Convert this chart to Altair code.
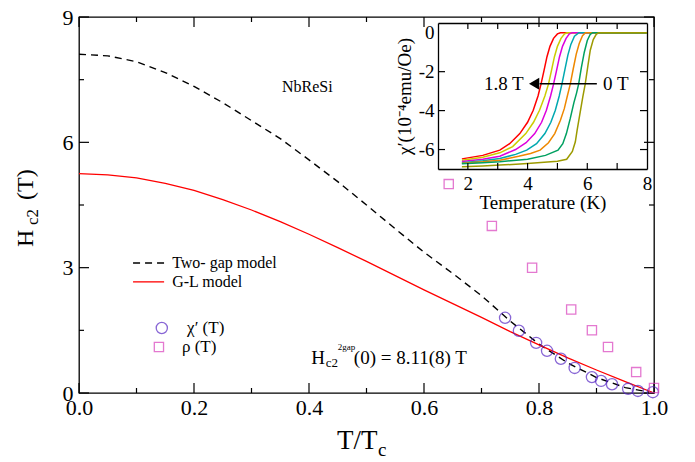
import altair as alt
import pandas as pd

FONT = "Liberation Serif"
W, H = 575, 376

# ---------------- main panel data ----------------
t_grid = [0.0, 0.05, 0.1, 0.15, 0.2, 0.25, 0.3, 0.35, 0.4, 0.45, 0.5,
          0.55, 0.6, 0.65, 0.7, 0.75, 0.8, 0.85, 0.9, 0.95, 1.0]
two_gap_H = [8.11, 8.07, 7.93, 7.67, 7.34, 6.95, 6.52, 6.09, 5.58, 5.06, 4.50,
             3.93, 3.37, 2.86, 2.33, 1.72, 1.17, 0.72, 0.37, 0.13, 0.0]
gl_H = [5.25, 5.22, 5.15, 5.02, 4.85, 4.63, 4.38, 4.10, 3.80, 3.48, 3.15,
        2.81, 2.47, 2.14, 1.81, 1.47, 1.15, 0.84, 0.55, 0.27, 0.0]

chi_t = [0.741, 0.765, 0.795, 0.814, 0.838, 0.862, 0.892, 0.908, 0.927, 0.955, 0.972, 0.998]
chi_H = [1.80, 1.49, 1.20, 1.01, 0.82, 0.60, 0.38, 0.29, 0.21, 0.10, 0.05, 0.02]

rho_t = [0.643, 0.718, 0.788, 0.856, 0.892, 0.920, 0.969, 1.0]
rho_H = [5.0, 4.0, 3.0, 2.0, 1.5, 1.1, 0.5, 0.12]

x_major = [0.0, 0.2, 0.4, 0.6, 0.8, 1.0]
x_minor = [0.1, 0.3, 0.5, 0.7, 0.9]
y_major = [0, 3, 6, 9]
y_minor = [1.5, 4.5, 7.5]

CHI_COLOR = "#5626c4"
RHO_COLOR = "#d940bd"

# ---------------- inset data ----------------
inset_names = ["1.8 T", "1.5 T", "1.2 T", "0.9 T", "0.6 T", "0.3 T", "0 T"]
inset_colors = ["#ff0000", "#cccc00", "#dd00dd", "#00a8b0", "#ee8800", "#00a060", "#9c9a00"]
inset_T = {
    "1.8 T": [1.8, 2.5, 3.07, 3.4, 3.74, 4.0, 4.19, 4.35, 4.45, 4.55, 4.65, 4.75, 4.87, 5.0, 5.1, 8.0],
    "1.5 T": [1.8, 2.5, 3.07, 3.5, 3.94, 4.2, 4.4, 4.58, 4.70, 4.8, 4.9, 5.0, 5.12, 5.24, 5.32, 8.0],
    "1.2 T": [1.8, 2.5, 3.07, 3.6, 3.95, 4.24, 4.47, 4.63, 4.77, 4.87, 4.97, 5.07, 5.17, 5.29, 5.40, 5.49, 8.0],
    "0.9 T": [1.8, 2.5, 3.07, 3.6, 3.97, 4.3, 4.58, 4.78, 4.93, 5.06, 5.15, 5.25, 5.35, 5.45, 5.57, 5.72, 8.0],
    "0.6 T": [1.8, 2.5, 3.07, 3.7, 4.1, 4.42, 4.7, 4.91, 5.1, 5.23, 5.34, 5.43, 5.53, 5.63, 5.73, 5.84, 5.94, 8.0],
    "0.3 T": [1.8, 2.5, 3.07, 4.0, 4.6, 5.02, 5.18, 5.30, 5.43, 5.55, 5.64, 5.71, 5.80, 5.90, 6.0, 6.1, 6.18, 8.0],
    "0 T": [1.8, 2.5, 3.07, 4.0, 5.0, 5.31, 5.5, 5.6, 5.66, 5.75, 5.85, 5.93, 6.02, 6.1, 6.2, 6.3, 6.38, 8.0],
}
inset_chi = {
    "1.8 T": [-6.48, -6.30, -6.03, -5.70, -5.18, -4.60, -3.98, -3.25, -2.64, -1.95, -1.23, -0.70, -0.29, -0.06, 0, 0],
    "1.5 T": [-6.55, -6.40, -6.17, -5.85, -5.18, -4.60, -3.98, -3.25, -2.64, -1.95, -1.23, -0.70, -0.29, -0.06, 0, 0],
    "1.2 T": [-6.62, -6.50, -6.34, -6.00, -5.65, -5.18, -4.60, -3.98, -3.25, -2.64, -1.95, -1.23, -0.70, -0.29, -0.06, 0, 0],
    "0.9 T": [-6.68, -6.58, -6.46, -6.25, -6.03, -5.70, -5.18, -4.60, -3.98, -3.25, -2.64, -1.90, -1.15, -0.60, -0.18, 0, 0],
    "0.6 T": [-6.70, -6.63, -6.55, -6.35, -6.20, -6.03, -5.65, -5.18, -4.50, -3.90, -3.20, -2.64, -1.85, -1.10, -0.55, -0.15, 0, 0],
    "0.3 T": [-6.73, -6.68, -6.63, -6.50, -6.30, -6.03, -5.70, -5.18, -4.40, -3.60, -3.10, -2.64, -1.80, -1.00, -0.40, -0.08, 0, 0],
    "0 T": [-6.89, -6.85, -6.80, -6.72, -6.60, -6.50, -6.10, -5.60, -5.00, -4.20, -3.30, -2.64, -1.70, -0.90, -0.35, -0.08, 0, 0],
}
inset_x_ticks = [2, 3, 4, 5, 6, 7]
inset_y_ticks = [-6, -4, -2]
arrow_T = [4.40, 6.32]
arrow_chi = [-2.62, -2.62]
arrow_head_T = [4.22]
arrow_labels = ["1.8 T", "0 T"]
arrow_label_T = [3.87, 6.53]

# ---------------- frames ----------------
main_df = pd.DataFrame({"t": t_grid, "two": two_gap_H, "gl": gl_H})
chi_df = pd.DataFrame({"t": chi_t, "H": chi_H})
rho_df = pd.DataFrame({"t": rho_t, "H": rho_H})

rows = []
for name in inset_names:
    for T, c in zip(inset_T[name], inset_chi[name]):
        rows.append({"T": T, "chi": c, "B": name})
inset_df = pd.DataFrame(rows)

xs = alt.Scale(domain=[0, 1], nice=False, zero=False)
ys = alt.Scale(domain=[0, 9], nice=False, zero=False)
# inset occupies a sub-rectangle of the main plot area
IX0, IX1, IY0, IY1 = 359, 568, 6, 152
ixs = alt.Scale(domain=[1, 8], range=[IX0, IX1], nice=False, zero=False)
iys = alt.Scale(domain=[-7, 0.5], range=[IY1, IY0], nice=False, zero=False)


def xtick_rules(vals, scale, y0, y1):
    return alt.Chart(pd.DataFrame({"v": vals})).mark_rule(color="black", strokeWidth=1.2).encode(
        x=alt.X("v:Q", scale=scale, axis=None), y=alt.value(y0), y2=alt.value(y1))


def ytick_rules(vals, scale, x0, x1):
    return alt.Chart(pd.DataFrame({"v": vals})).mark_rule(color="black", strokeWidth=1.2).encode(
        y=alt.Y("v:Q", scale=scale, axis=None), x=alt.value(x0), x2=alt.value(x1))


def frame_axis(orient, offset):
    return alt.Axis(orient=orient, offset=offset, labels=False, ticks=False, title=None,
                    domain=True, domainColor="black", domainWidth=1.3, grid=False)


# ---------------- main layers ----------------
m_two = alt.Chart(main_df).mark_line(color="black", strokeDash=[7, 5], strokeWidth=1.4).encode(
    x=alt.X("t:Q", scale=xs, axis=alt.Axis(orient="bottom", values=x_major, format=".1f",
                                            ticks=False, domain=False, labelFontSize=22,
                                            labelPadding=4, labelFlush=False, title=None)),
    y=alt.Y("two:Q", scale=ys, axis=alt.Axis(orient="left", values=y_major, ticks=False,
                                              domain=False, labelFontSize=22, labelPadding=6,
                                              title=None)),
)
m_gl = alt.Chart(main_df).mark_line(color="#ff0000", strokeWidth=1.3).encode(
    x=alt.X("t:Q", scale=xs, axis=None), y=alt.Y("gl:Q", scale=ys, axis=None))
m_chi = alt.Chart(chi_df).mark_point(shape="circle", size=125, color=CHI_COLOR, strokeWidth=1.3).encode(
    x=alt.X("t:Q", scale=xs, axis=None), y=alt.Y("H:Q", scale=ys, axis=None))
m_rho = alt.Chart(rho_df).mark_point(shape="square", size=85, color=RHO_COLOR, strokeWidth=1.3).encode(
    x=alt.X("t:Q", scale=xs, axis=None), y=alt.Y("H:Q", scale=ys, axis=None))

main_ticks = [
    xtick_rules(x_major, xs, H, H - 10), xtick_rules(x_minor, xs, H, H - 5),
    xtick_rules(x_major, xs, 0, 10), xtick_rules(x_minor, xs, 0, 5),
    ytick_rules(y_major, ys, 0, 10), ytick_rules(y_minor, ys, 0, 5),
    ytick_rules(y_major, ys, W, W - 10), ytick_rules(y_minor, ys, W, W - 5),
]

# legend
leg_line_df = pd.DataFrame({"t": [0.094, 0.148, 0.094, 0.148],
                            "H": [3.11, 3.11, 2.66, 2.66],
                            "k": ["two", "two", "gl", "gl"]})
leg_dash = alt.Chart(leg_line_df).transform_filter("datum.k == 'two'").mark_line(
    color="black", strokeDash=[7, 5], strokeWidth=1.4).encode(
    x=alt.X("t:Q", scale=xs, axis=None), y=alt.Y("H:Q", scale=ys, axis=None))
leg_red = alt.Chart(leg_line_df).transform_filter("datum.k == 'gl'").mark_line(
    color="#ff0000", strokeWidth=1.3).encode(
    x=alt.X("t:Q", scale=xs, axis=None), y=alt.Y("H:Q", scale=ys, axis=None))
leg_circ = alt.Chart(pd.DataFrame({"t": [0.144], "H": [1.555]})).mark_point(
    shape="circle", size=125, color=CHI_COLOR, strokeWidth=1.3).encode(
    x=alt.X("t:Q", scale=xs, axis=None), y=alt.Y("H:Q", scale=ys, axis=None))
leg_sq = alt.Chart(pd.DataFrame({"t": [0.139], "H": [1.10]})).mark_point(
    shape="square", size=85, color=RHO_COLOR, strokeWidth=1.3).encode(
    x=alt.X("t:Q", scale=xs, axis=None), y=alt.Y("H:Q", scale=ys, axis=None))

text_df = pd.DataFrame({
    "t": [0.162, 0.162, 0.188, 0.179, 0.353, 0.404, 0.478],
    "H": [3.11, 2.66, 1.555, 1.10, 7.32, 0.84, 0.84],
    "s": ["Two- gap model", "G-L model", "χ′ (T)", "ρ (T)", "NbReSi", "H", "(0) = 8.11(8) T"],
    "fs": [16, 16, 17, 17, 16, 19, 19],
})
m_text = alt.Chart(text_df).mark_text(font=FONT, align="left", baseline="middle", color="black").encode(
    x=alt.X("t:Q", scale=xs, axis=None), y=alt.Y("H:Q", scale=ys, axis=None),
    text="s:N", size=alt.Size("fs:Q", scale=None, legend=None))
sub_df = pd.DataFrame({"t": [0.429, 0.450], "H": [0.72, 1.10], "s": ["c2", "2gap"], "fs": [13, 9]})
m_sub = alt.Chart(sub_df).mark_text(font=FONT, align="left", baseline="middle", color="black").encode(
    x=alt.X("t:Q", scale=xs, axis=None), y=alt.Y("H:Q", scale=ys, axis=None),
    text="s:N", size=alt.Size("fs:Q", scale=None, legend=None))

one = pd.DataFrame({"a": [0]})
yt_H = alt.Chart(one).mark_text(text="H", font=FONT, fontSize=24, angle=270, align="left",
                                baseline="alphabetic").encode(x=alt.value(-46), y=alt.value(230))
yt_c = alt.Chart(one).mark_text(text="c2", font=FONT, fontSize=17, angle=270, align="left",
                                baseline="alphabetic").encode(x=alt.value(-41), y=alt.value(208))
yt_T = alt.Chart(one).mark_text(text="(T)", font=FONT, fontSize=24, angle=270, align="left",
                                baseline="alphabetic").encode(x=alt.value(-46), y=alt.value(183))
xt_T = alt.Chart(one).mark_text(text="T/T", font=FONT, fontSize=27, align="left",
                                baseline="alphabetic").encode(x=alt.value(258), y=alt.value(432))
xt_c = alt.Chart(one).mark_text(text="c", font=FONT, fontSize=19, align="left",
                                baseline="alphabetic").encode(x=alt.value(299), y=alt.value(439))

main = alt.layer(m_two, m_gl, *main_ticks, m_chi, m_rho, leg_dash, leg_red, leg_circ, leg_sq,
                 m_text, m_sub, yt_H, yt_c, yt_T, xt_T, xt_c).resolve_axis(x="independent", y="independent")

# ---------------- inset layers ----------------
i_curves = alt.Chart(inset_df).mark_line(strokeWidth=1.5).encode(
    x=alt.X("T:Q", scale=ixs, axis=alt.Axis(orient="bottom", offset=-(H - IY1), values=[2, 4, 6, 8],
                                             ticks=False, domain=True, domainColor="black", domainWidth=1.3,
                                             labelFontSize=19, labelPadding=5, labelFlush=False,
                                             title="Temperature (K)", titleFontSize=19, titlePadding=0)),
    y=alt.Y("chi:Q", scale=iys, axis=alt.Axis(orient="left", offset=-IX0, values=[-6, -4, -2, 0],
                                               ticks=False, domain=True, domainColor="black", domainWidth=1.3,
                                               labelFontSize=19, labelPadding=4, labelExpr="'' + datum.value",
                                               title="χ′(10⁻⁴emu/Oe)", titleFontSize=19, titlePadding=4)),
    color=alt.Color("B:N", scale=alt.Scale(domain=inset_names, range=inset_colors), legend=None),
    order=alt.Order("T:Q"),
)
i_frame = alt.Chart(inset_df).mark_line(opacity=0).encode(
    x=alt.X("T:Q", scale=ixs, axis=frame_axis("bottom", -(H - IY0))),
    y=alt.Y("chi:Q", scale=iys, axis=frame_axis("left", -IX1)),
    detail="B:N",
)
inset_ticks = [
    xtick_rules(inset_x_ticks, ixs, IY1, IY1 - 6), xtick_rules(inset_x_ticks, ixs, IY0, IY0 + 6),
    ytick_rules(inset_y_ticks, iys, IX0, IX0 + 7), ytick_rules(inset_y_ticks, iys, IX1, IX1 - 7),
]
i_arrow = alt.Chart(pd.DataFrame({"T": arrow_T, "chi": arrow_chi})).mark_line(
    color="black", strokeWidth=1.3).encode(
    x=alt.X("T:Q", scale=ixs, axis=None), y=alt.Y("chi:Q", scale=iys, axis=None))
i_head = alt.Chart(pd.DataFrame({"T": arrow_head_T, "chi": [-2.62]})).mark_point(
    shape="triangle-left", filled=True, size=140, color="black", opacity=1).encode(
    x=alt.X("T:Q", scale=ixs, axis=None), y=alt.Y("chi:Q", scale=iys, axis=None))
lab_df = pd.DataFrame({"T": arrow_label_T, "chi": [-2.62, -2.62], "s": arrow_labels,
                       "al": ["right", "left"]})
i_lab_r = alt.Chart(lab_df).transform_filter("datum.al == 'right'").mark_text(
    font=FONT, fontSize=19, baseline="middle", color="black", align="right").encode(
    x=alt.X("T:Q", scale=ixs, axis=None), y=alt.Y("chi:Q", scale=iys, axis=None), text="s:N")
i_lab_l = alt.Chart(lab_df).transform_filter("datum.al == 'left'").mark_text(
    font=FONT, fontSize=19, baseline="middle", color="black", align="left").encode(
    x=alt.X("T:Q", scale=ixs, axis=None), y=alt.Y("chi:Q", scale=iys, axis=None), text="s:N")

inset = alt.layer(i_curves, i_frame, *inset_ticks, i_arrow, i_head, i_lab_r, i_lab_l).resolve_axis(
    x="independent", y="independent")

chart = alt.layer(main, inset).resolve_scale(
    x="independent", y="independent", color="independent"
).properties(
    width=W, height=H,
    padding={"left": 71, "top": 9, "right": 30, "bottom": 68},
    autosize=alt.AutoSizeParams(type="none"),
    background="white",
).configure_view(
    stroke="black", strokeWidth=1.3
).configure_axis(
    labelFont=FONT, titleFont=FONT, labelColor="black", titleColor="black",
    titleFontWeight="normal", grid=False, domainColor="black", tickColor="black"
).configure_text(
    font=FONT
)

chart.save("out.html", embed_options={"renderer": "svg", "actions": False})
